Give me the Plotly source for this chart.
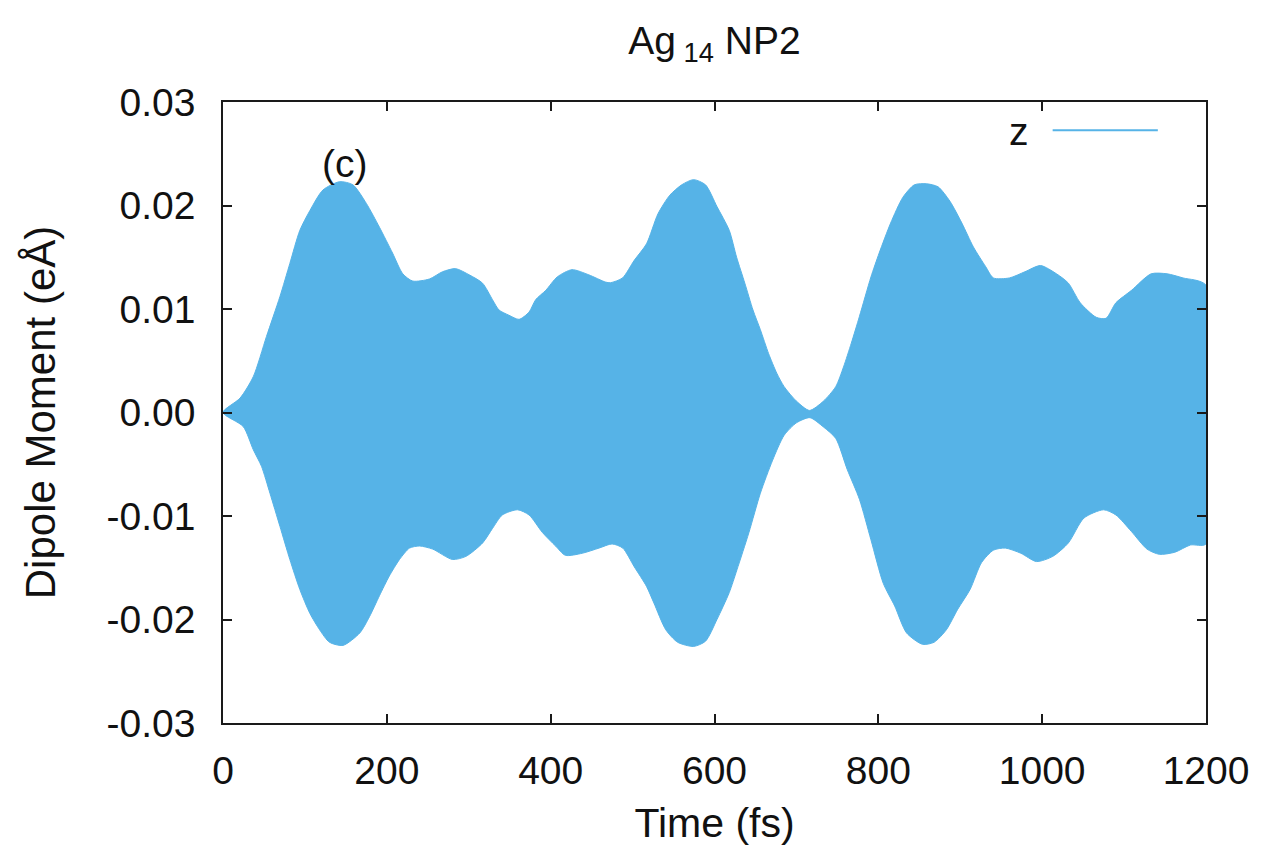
import plotly.graph_objects as go

# Upper envelope of the z dipole signal (time in fs, dipole in eÅ)
t_upper = [0, 20.8, 37, 53, 69.5, 81.6, 93.8, 106, 122, 142.5, 158.6, 175, 191, 207,
           219.5, 231.6, 252, 268, 284, 300.6, 316.8, 329, 337, 349, 361.4, 373.6,
           381.7, 394, 408, 426, 446.6, 467, 473, 487.7, 502, 517, 531, 545.5, 560,
           574.4, 589, 603, 618, 627, 637, 647, 656, 666, 676, 685, 700, 716, 733,
           748, 757.5, 767, 777, 791, 801, 815, 830, 844, 859, 873, 887.5, 902, 916,
           931, 940.5, 960, 979, 998, 1017.5, 1032, 1046.5, 1066, 1078, 1090, 1109,
           1133, 1152.5, 1172, 1200]
v_upper = [0.0, 0.00139, 0.00347, 0.00733, 0.0112, 0.0144, 0.0176, 0.0195, 0.0215,
           0.0223, 0.0220, 0.0202, 0.0179, 0.0154, 0.0134, 0.0127, 0.0129, 0.0136,
           0.0139, 0.0133, 0.0125, 0.0109, 0.0099, 0.0094, 0.0090, 0.0097, 0.0109,
           0.0118, 0.0131, 0.0138, 0.0133, 0.0126, 0.01254, 0.0130, 0.0147, 0.0163,
           0.0192, 0.0210, 0.0220, 0.0225, 0.0220, 0.0199, 0.0176, 0.0150, 0.0125,
           0.0099, 0.0080, 0.0057, 0.0038, 0.0025, 0.0011, 0.0002, 0.0011, 0.0025,
           0.0044, 0.0067, 0.0093, 0.0131, 0.0154, 0.0183, 0.0208, 0.0220, 0.0221,
           0.0218, 0.0204, 0.0183, 0.0160, 0.0141, 0.0130, 0.0130, 0.0136, 0.0142,
           0.0134, 0.0125, 0.0106, 0.0092, 0.0091, 0.0106, 0.0118, 0.0134, 0.0134,
           0.0130, 0.0123]

# Lower envelope of the same signal
t_lower = [0, 24.6, 37, 47, 57.3, 69.5, 81.6, 93.8, 106, 118, 130, 146.5, 167, 179,
           191, 203, 215.5, 227.7, 240, 256, 280, 296.6, 317, 329, 341, 359.5, 373.6,
           390, 406, 418, 438.5, 459, 475, 488, 502, 517, 526, 540.6, 555, 574.4, 589,
           603, 618, 627.4, 642, 656, 671, 685, 700, 716.5, 733, 748, 762, 777, 791,
           806, 820, 834.5, 854, 868, 883, 897, 912, 926, 940.5, 955, 974, 993, 1013,
           1032, 1051, 1075, 1090, 1109, 1128, 1143, 1162, 1181, 1200]
v_lower = [0.0, -0.00135, -0.0036, -0.0052, -0.0078, -0.0110, -0.0142, -0.0171,
           -0.0194, -0.0210, -0.0222, -0.0225, -0.0213, -0.0197, -0.0177, -0.0158,
           -0.0142, -0.0131, -0.0129, -0.0132, -0.0142, -0.0139, -0.0126, -0.0112,
           -0.0099, -0.0094, -0.0099, -0.0116, -0.0129, -0.0138, -0.0136, -0.0131,
           -0.0127, -0.0131, -0.0149, -0.0168, -0.0184, -0.0210, -0.0222, -0.0226,
           -0.0221, -0.0200, -0.0174, -0.0152, -0.0116, -0.0078, -0.0046, -0.0022,
           -0.0010, -0.0005, -0.0014, -0.0025, -0.0055, -0.0084, -0.0123, -0.0165,
           -0.0187, -0.0213, -0.0224, -0.0222, -0.0210, -0.0190, -0.0171, -0.0145,
           -0.0133, -0.0131, -0.0136, -0.0144, -0.0139, -0.0126, -0.0102, -0.0094,
           -0.0099, -0.0115, -0.0132, -0.0137, -0.0135, -0.0128, -0.0127]

x_ticks = [0, 200, 400, 600, 800, 1000, 1200]
y_ticks = [-0.03, -0.02, -0.01, 0.0, 0.01, 0.02, 0.03]
y_tick_text = ["-0.03", "-0.02", "-0.01", "0.00", "0.01", "0.02", "0.03"]

BLUE = "#56b3e7"
FONT = "Liberation Sans, Arial, sans-serif"

fig = go.Figure()

# The fast oscillation fills the band between its envelopes
fig.add_trace(go.Scatter(
    x=t_upper + t_lower[::-1],
    y=v_upper + v_lower[::-1],
    mode="lines",
    fill="toself",
    fillcolor=BLUE,
    line=dict(color=BLUE, width=1, shape="spline", smoothing=0.7),
    name="z",
    showlegend=False,
    hoverinfo="skip",
))

axis_common = dict(
    showgrid=False,
    zeroline=False,
    showline=True,
    linecolor="#1a1a1a",
    linewidth=1.6,
    mirror="ticks",
    ticks="inside",
    ticklen=9,
    tickwidth=1.6,
    tickcolor="#1a1a1a",
    tickfont=dict(family=FONT, size=39, color="#111111"),
)

fig.update_layout(
    width=1261,
    height=850,
    margin=dict(l=223, r=52, t=102, b=126),
    paper_bgcolor="white",
    plot_bgcolor="white",
    title=dict(
        text="Ag<sub> 14</sub> NP2",
        x=0.5, xref="paper", xanchor="center",
        y=1 - 40 / 850, yref="container", yanchor="middle",
        font=dict(family=FONT, size=39, color="#111111"),
    ),
    xaxis=dict(
        range=[0, 1200],
        tickvals=x_ticks,
        ticklabelstandoff=12,
        title=dict(text="Time (fs)", standoff=18,
                   font=dict(family=FONT, size=41, color="#111111")),
        **axis_common,
    ),
    yaxis=dict(
        range=[-0.03, 0.03],
        tickvals=y_ticks,
        ticktext=y_tick_text,
        ticklabelstandoff=18,
        title=dict(text="Dipole Moment (eÅ)", standoff=38,
                   font=dict(family=FONT, size=42, color="#111111")),
        **axis_common,
    ),
    showlegend=False,
)

# Panel label
fig.add_annotation(
    x=148, y=0.0241, xref="x", yref="y",
    text="(c)", showarrow=False,
    font=dict(family=FONT, size=39, color="#111111"),
    xanchor="center", yanchor="middle",
)

# Key: label on the left, line sample on the right
fig.add_annotation(
    x=0.822, y=0.953, xref="paper", yref="paper",
    text="z", showarrow=False,
    font=dict(family=FONT, size=39, color="#111111"),
    xanchor="right", yanchor="middle",
)
fig.add_shape(
    type="line", xref="paper", yref="paper",
    x0=0.844, x1=0.951, y0=0.9547, y1=0.9547,
    line=dict(color=BLUE, width=2),
)

fig.write_html("out.html")
